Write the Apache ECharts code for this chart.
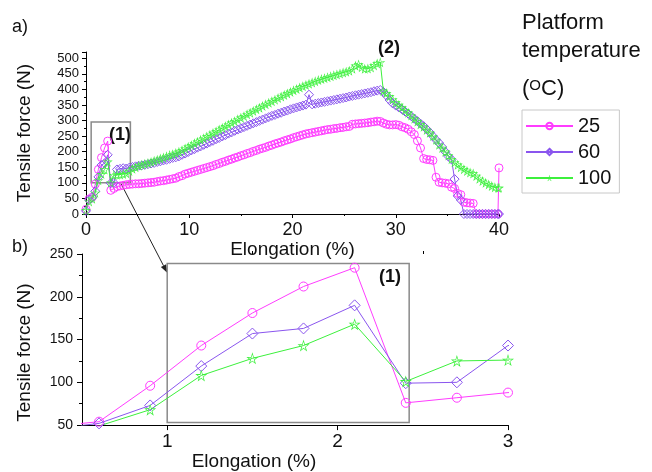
<!DOCTYPE html>
<html>
<head>
<meta charset="utf-8">
<script src="https://cdn.jsdelivr.net/npm/echarts@6/dist/echarts.min.js"></script>
<style>
  html, body { margin: 0; padding: 0; background: #fff; }
  #chart-container { width: 652px; height: 472px; }
</style>
</head>
<body>
<div id="chart-container"></div>
<script>
// elongation (%) - one reading every 0.3 %
const elong = [
  0, 0.3, 0.6, 0.9, 1.2, 1.5, 1.8, 2.1, 2.4, 2.7,
  3, 3.3, 3.6, 3.9, 4.2, 4.5, 4.8, 5.1, 5.4, 5.7,
  6, 6.3, 6.6, 6.9, 7.2, 7.5, 7.8, 8.1, 8.4, 8.7,
  9, 9.3, 9.6, 9.9, 10.2, 10.5, 10.8, 11.1, 11.4, 11.7,
  12, 12.3, 12.6, 12.9, 13.2, 13.5, 13.8, 14.1, 14.4, 14.7,
  15, 15.3, 15.6, 15.9, 16.2, 16.5, 16.8, 17.1, 17.4, 17.7,
  18, 18.3, 18.6, 18.9, 19.2, 19.5, 19.8, 20.1, 20.4, 20.7,
  21, 21.3, 21.6, 21.9, 22.2, 22.5, 22.8, 23.1, 23.4, 23.7,
  24, 24.3, 24.6, 24.9, 25.2, 25.5, 25.8, 26.1, 26.4, 26.7,
  27, 27.3, 27.6, 27.9, 28.2, 28.5, 28.8, 29.1, 29.4, 29.7,
  30, 30.3, 30.6, 30.9, 31.2, 31.5, 31.8, 32.1, 32.4, 32.7,
  33, 33.3, 33.6, 33.9, 34.2, 34.5, 34.8, 35.1, 35.4, 35.7,
  36, 36.3, 36.6, 36.9, 37.2, 37.5, 37.8, 38.1, 38.4, 38.7,
  39, 39.3, 39.6, 39.9, 40
];

// tensile force (N), platform at 25 C
const force25 = [
  15, 48, 54, 96, 143, 181, 212, 234, 76, 82,
  88, 90, 92, 94, 95, 96, 97, 97, 98, 99,
  100, 101, 102, 104, 106, 107, 109, 111, 113, 115,
  120, 123, 128, 131, 134, 137, 140, 143, 146, 149,
  152, 155, 159, 162, 166, 169, 173, 176, 180, 183,
  187, 190, 194, 197, 201, 204, 208, 211, 214, 218,
  221, 225, 228, 231, 235, 238, 241, 245, 248, 251,
  254, 257, 259, 261, 263, 265, 267, 269, 271, 272,
  274, 275, 277, 278, 280, 281, 288, 289, 290, 291,
  292, 293, 295, 296, 298, 297, 292, 288, 286, 286,
  287, 285, 280, 277, 272, 264, 255, 235, 212, 178,
  175, 174, 172, 118, 102, 100, 99, 97, 86, 82,
  66, 62, 38, 36, 35, 34, 0, 0, 0, 0,
  0, 0, 0, 0, 148
];

// platform at 60 C
const force60 = [
  10, 45, 52, 73, 119, 157, 163, 190, 99, 100,
  143, 145, 147, 146, 149, 151, 153, 155, 156, 158,
  160, 162, 164, 167, 169, 172, 174, 177, 180, 182,
  185, 190, 194, 199, 204, 208, 213, 217, 222, 226,
  231, 235, 240, 244, 249, 253, 258, 262, 267, 271,
  275, 279, 283, 287, 291, 295, 299, 303, 307, 311,
  315, 318, 322, 325, 329, 332, 336, 339, 342, 345,
  348, 351, 383, 352, 354, 356, 358, 360, 362, 364,
  366, 368, 370, 372, 374, 377, 379, 381, 383, 385,
  387, 389, 391, 394, 396, 398, 392, 380, 366, 355,
  348, 342, 336, 329, 322, 314, 306, 298, 290, 282,
  272, 262, 250, 238, 228, 215, 200, 185, 175, 112,
  58, 45, 0, 0, 0, 0, 0, 0, 0, 0,
  0, 0, 0, 0, 0
];

// platform at 100 C
const force100 = [
  12, 40, 49, 68, 108, 128, 143, 168, 101, 125,
  126, 127, 128, 131, 138, 145, 150, 155, 158, 161,
  164, 167, 171, 174, 178, 181, 185, 189, 192, 196,
  200, 205, 210, 216, 221, 227, 232, 238, 243, 249,
  254, 260, 265, 271, 276, 282, 287, 293, 298, 304,
  309, 314, 320, 325, 331, 336, 341, 347, 352, 357,
  362, 367, 372, 377, 382, 387, 392, 397, 401, 406,
  410, 414, 418, 422, 426, 430, 433, 436, 439, 442,
  445, 448, 451, 454, 457, 460, 466, 476, 480, 471,
  466, 467, 470, 477, 483, 487, 395, 388, 378, 368,
  358, 350, 342, 333, 325, 316, 306, 297, 288, 280,
  270, 261, 250, 238, 222, 212, 200, 188, 176, 166,
  158, 150, 144, 138, 133, 130, 122, 113, 106, 100,
  95, 90, 86, 84, 84
];

const tempNames = ['25', '60', '100'];
const topXTicks = [0, 10, 20, 30, 40];
const zoomXTicks = [1, 2, 3];
const zoomXMinor = [1.5, 2.5];

const FONT = "'Liberation Sans', Arial, sans-serif";
const colors = ['#ff3cff', '#8a55ee', '#3cf03c'];
// hollow star: outer outline plus a reversed inner outline (hole)
const starPath = 'path://M50,0 L61,35 L98,35 L68,57 L79,91 L50,70 L21,91 L32,57 L2,35 L39,35 Z ' +
  'M50,17 L43,41 L19,41 L39,56 L32,77 L50,63 L68,77 L61,56 L81,41 L57,41 Z';
const symbols = ['circle', 'diamond', starPath];
const topSizes = [8, 9, 10];
const zoomSizes = [9, 11, 12];
const allForces = [force25, force60, force100];

var myChart = echarts.init(document.getElementById('chart-container'));

function pairs(ys) {
  return elong.map(function (x, i) { return [x, ys[i]]; });
}

function makeSeries(k, gridIdx) {
  var isStar = k === 2;
  var s = {
    name: tempNames[k],
    type: 'line',
    xAxisIndex: gridIdx,
    yAxisIndex: gridIdx,
    data: pairs(allForces[k]),
    symbol: symbols[k],
    symbolSize: gridIdx === 0 ? topSizes[k] : zoomSizes[k],
    showAllSymbol: true,
    clip: true,
    animation: false,
    lineStyle: { color: colors[k], width: 1 },
    itemStyle: isStar
      ? { color: colors[k], borderWidth: 0 }
      : { color: 'rgba(255,255,255,0)', borderColor: colors[k], borderWidth: 1 },
    emphasis: { disabled: true }
  };
  if (k === 0) {
    // grey frame marking region (1)
    var box = gridIdx === 0 ? [[0.5, 100], [4.3, 295]] : [[1.0, 53], [2.42, 239]];
    s.markArea = {
      silent: true,
      itemStyle: { color: 'rgba(0,0,0,0)', borderColor: '#8a8a8a', borderWidth: 1.5 },
      label: { show: false },
      data: [[{ coord: box[0] }, { coord: box[1] }]]
    };
  }
  return s;
}

var axisLine = { show: true, onZero: false, lineStyle: { color: '#000', width: 1 } };

var option = {
  backgroundColor: '#fff',
  textStyle: { fontFamily: FONT },
  legend: {
    data: tempNames,
    orient: 'vertical',
    left: 522,
    top: 110,
    padding: [6, 8, 5, 3],
    itemWidth: 47,
    itemHeight: 8,
    itemGap: 6,
    borderColor: '#c8c8c8',
    borderWidth: 1,
    selectedMode: false,
    textStyle: { fontSize: 20, color: '#111', fontFamily: FONT }
  },
  grid: [
    { left: 86, top: 52, width: 413, height: 162 },
    { left: 82, top: 254, width: 426, height: 185 }
  ],
  xAxis: [
    {
      gridIndex: 0, type: 'value', min: 0, max: 40, interval: 10,
      name: 'Elongation (%)', nameLocation: 'middle', nameGap: 21,
      nameTextStyle: { fontSize: 19, color: '#111', fontFamily: FONT },
      axisLine: axisLine,
      axisTick: { show: true, length: 4, lineStyle: { color: '#000' } },
      minorTick: { show: true, splitNumber: 2, length: 2, lineStyle: { color: '#000' } },
      axisLabel: { fontSize: 18, color: '#111', margin: 7, fontFamily: FONT,
        formatter: function (v) { return topXTicks.indexOf(v) >= 0 ? String(v) : ''; } },
      splitLine: { show: false }
    },
    {
      gridIndex: 1, type: 'value', min: 0.5, max: 3,
      name: 'Elongation (%)', nameLocation: 'middle', nameGap: 12,
      nameTextStyle: { fontSize: 19, color: '#111', fontFamily: FONT, padding: [0, 82, 0, 0] },
      axisLine: axisLine,
      axisTick: { show: true, length: 5, customValues: zoomXTicks, lineStyle: { color: '#000' } },
      axisLabel: { fontSize: 19, color: '#111', margin: 7, fontFamily: FONT, customValues: zoomXTicks },
      splitLine: { show: false }
    },
    {
      gridIndex: 1, type: 'value', min: 0.5, max: 3,
      axisLine: { show: false },
      axisTick: { show: true, length: 3, customValues: zoomXMinor, lineStyle: { color: '#000' } },
      axisLabel: { show: false, customValues: zoomXMinor },
      splitLine: { show: false }
    }
  ],
  yAxis: [
    {
      gridIndex: 0, type: 'value', min: 0, max: 520, interval: 50,
      name: 'Tensile force (N)', nameLocation: 'middle', nameGap: 52,
      nameTextStyle: { fontSize: 19, color: '#111', fontFamily: FONT },
      axisLine: axisLine,
      axisTick: { show: true, length: 4, lineStyle: { color: '#000' } },
      minorTick: { show: true, splitNumber: 2, length: 2, lineStyle: { color: '#000' } },
      axisLabel: { fontSize: 13, color: '#111', margin: 7, fontFamily: FONT,
        formatter: function (v) { return v % 50 === 0 ? String(v) : ''; } },
      splitLine: { show: false }
    },
    {
      gridIndex: 1, type: 'value', min: 50, max: 250, interval: 50,
      name: 'Tensile force (N)', nameLocation: 'middle', nameGap: 48,
      nameTextStyle: { fontSize: 19, color: '#111', fontFamily: FONT, padding: [0, 26, 0, 0] },
      axisLine: axisLine,
      axisTick: { show: true, length: 5, lineStyle: { color: '#000' } },
      minorTick: { show: true, splitNumber: 2, length: 3, lineStyle: { color: '#000' } },
      axisLabel: { fontSize: 14, color: '#111', margin: 9, fontFamily: FONT },
      splitLine: { show: false }
    }
  ],
  series: [
    makeSeries(0, 0), makeSeries(1, 0), makeSeries(2, 0),
    makeSeries(0, 1), makeSeries(1, 1), makeSeries(2, 1)
  ]
};

myChart.setOption(option);

// annotations: panel letters, region labels, legend title and the arrow
function addGraphics() {
  var p1 = myChart.convertToPixel({ gridIndex: 0 }, [3.4, 97]);
  var p2 = myChart.convertToPixel({ gridIndex: 1 }, [1.0, 228]);
  var ang = Math.atan2(p2[1] - p1[1], p2[0] - p1[0]);
  var hl = 8, hw = 3;
  var bx = p2[0] - hl * Math.cos(ang), by = p2[1] - hl * Math.sin(ang);
  var head = [
    [p2[0], p2[1]],
    [bx + hw * Math.sin(ang), by - hw * Math.cos(ang)],
    [bx - hw * Math.sin(ang), by + hw * Math.cos(ang)]
  ];
  var txt = function (x, y, s, size, bold) {
    return { type: 'text', x: x, y: y, silent: true,
      style: { text: s, fontSize: size, fontWeight: bold ? 'bold' : 'normal', fontFamily: FONT, fill: '#111',
        align: 'center', verticalAlign: 'middle' } };
  };
  myChart.setOption({
    graphic: [
      { type: 'line', silent: true, shape: { x1: p1[0], y1: p1[1], x2: bx, y2: by },
        style: { stroke: '#222', lineWidth: 1 } },
      { type: 'polygon', silent: true, shape: { points: head }, style: { fill: '#222' } },
      txt(20, 27, 'a)', 18, false),
      txt(20, 247, 'b)', 18, false),
      txt(120, 135, '(1)', 18, true),
      txt(389, 48, '(2)', 18, true),
      txt(390, 277, '(1)', 18, true),
      { type: 'text', x: 522, y: 12, silent: true,
        style: { text: 'Platform', fontSize: 22, fontFamily: FONT, fill: '#111' } },
      { type: 'text', x: 522, y: 40, silent: true,
        style: { text: 'temperature', fontSize: 22, fontFamily: FONT, fill: '#111' } },
      { type: 'text', x: 522, y: 78, silent: true,
        style: { text: '{a|(}{s|O}{a|C)}', fontFamily: FONT, fill: '#111',
          rich: {
            a: { fontSize: 22, fontFamily: FONT, fill: '#111', verticalAlign: 'bottom' },
            s: { fontSize: 15, fontFamily: FONT, fill: '#111', verticalAlign: 'top' }
          } } }
    ]
  });
}
addGraphics();
</script>
</body>
</html>
